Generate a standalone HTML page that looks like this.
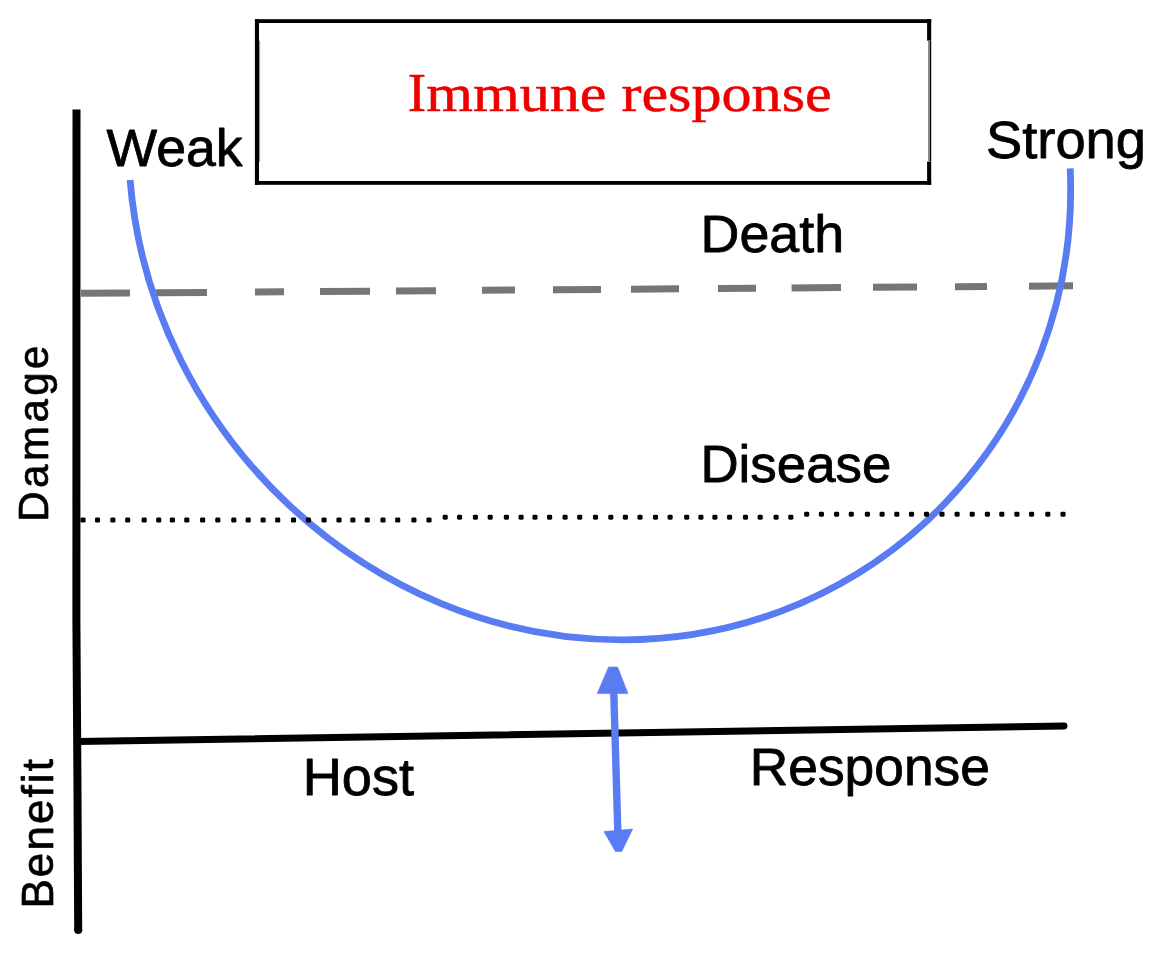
<!DOCTYPE html>
<html><head><meta charset="utf-8"><title>Immune response</title>
<style>
html,body{margin:0;padding:0;background:#fff;width:1164px;height:955px;overflow:hidden;}
svg{display:block;will-change:transform;}
</style></head>
<body>
<svg width="1164" height="955" viewBox="0 0 1164 955">
<rect x="255" y="19.2" width="676.2" height="3.8" fill="#000"/>
<rect x="255" y="181" width="676.2" height="3.8" fill="#000"/>
<rect x="254.9" y="19.2" width="4.1" height="165.6" fill="#000"/>
<rect x="259" y="40.7" width="1.1" height="121" fill="#999"/>
<rect x="927.1" y="19.2" width="4.1" height="21.5" fill="#000"/>
<rect x="927.1" y="161.5" width="4.1" height="23.3" fill="#000"/>
<rect x="928" y="40.7" width="2" height="120.8" fill="#8a8a8a"/>
<rect x="930" y="40.7" width="1.2" height="120.8" fill="#000"/>
<text transform="translate(409.55,111.35) scale(0.9953,1)" x="-1.94" y="0" font-size="55.5" fill="#ee0000" stroke="#ee0000" stroke-width="0.5" stroke-linejoin="round" style="font-family:&quot;Liberation Serif&quot;, serif">I</text>
<text transform="translate(427.35,111.35) scale(1.1559,1)" x="-1.04" y="0" font-size="52" fill="#ee0000" stroke="#ee0000" stroke-width="0.5" stroke-linejoin="round" style="font-family:&quot;Liberation Serif&quot;, serif">mmune response</text>
<polyline points="76.5,109.5 76.4,620 77.4,775 78.2,931" fill="none" stroke="#000" stroke-width="8" stroke-linejoin="round"/><circle cx="78.2" cy="930" r="4" fill="#000"/>
<line x1="78" y1="741.45" x2="1064" y2="726.0" stroke="#000" stroke-width="7" stroke-linecap="round"/>
<line x1="81" y1="293.34" x2="130" y2="292.97" stroke="#767676" stroke-width="7"/>
<line x1="155.5" y1="292.78" x2="207" y2="292.39" stroke="#767676" stroke-width="7"/>
<line x1="255" y1="292.03" x2="284" y2="291.81" stroke="#767676" stroke-width="7"/>
<line x1="320" y1="291.53" x2="370" y2="291.15" stroke="#767676" stroke-width="7"/>
<line x1="396" y1="290.96" x2="436" y2="290.65" stroke="#767676" stroke-width="7"/>
<line x1="482" y1="290.30" x2="515" y2="290.05" stroke="#767676" stroke-width="7"/>
<line x1="553" y1="289.77" x2="601" y2="289.40" stroke="#767676" stroke-width="7"/>
<line x1="631" y1="289.18" x2="679" y2="288.81" stroke="#767676" stroke-width="7"/>
<line x1="718" y1="288.52" x2="756" y2="288.23" stroke="#767676" stroke-width="7"/>
<line x1="791.6" y1="287.96" x2="841" y2="287.58" stroke="#767676" stroke-width="7"/>
<line x1="873" y1="287.34" x2="917" y2="287.01" stroke="#767676" stroke-width="7"/>
<line x1="955" y1="286.72" x2="987" y2="286.48" stroke="#767676" stroke-width="7"/>
<line x1="1029" y1="286.16" x2="1073" y2="285.83" stroke="#767676" stroke-width="7"/>
<path d="M130.1,180 C150.82,434.80 370.21,639.83 622.25,639.83 C876.12,639.83 1081.83,430.43 1070.2,168.4" fill="none" stroke="#5a7cf2" stroke-width="6.8"/>
<rect x="80.45" y="517.45" width="5.1" height="5.1" rx="1.4" fill="#000"/>
<rect x="94.95" y="517.45" width="5.1" height="5.1" rx="1.4" fill="#000"/>
<rect x="110.35" y="517.45" width="5.1" height="5.1" rx="1.4" fill="#000"/>
<rect x="125.15" y="517.45" width="5.1" height="5.1" rx="1.4" fill="#000"/>
<rect x="141.65" y="517.45" width="5.1" height="5.1" rx="1.4" fill="#000"/>
<rect x="156.15" y="517.45" width="5.1" height="5.1" rx="1.4" fill="#000"/>
<rect x="169.85" y="517.45" width="5.1" height="5.1" rx="1.4" fill="#000"/>
<rect x="184.25" y="517.45" width="5.1" height="5.1" rx="1.4" fill="#000"/>
<rect x="200.05" y="517.45" width="5.1" height="5.1" rx="1.4" fill="#000"/>
<rect x="215.25" y="517.45" width="5.1" height="5.1" rx="1.4" fill="#000"/>
<rect x="231.25" y="517.45" width="5.1" height="5.1" rx="1.4" fill="#000"/>
<rect x="245.65" y="517.45" width="5.1" height="5.1" rx="1.4" fill="#000"/>
<rect x="260.55" y="517.45" width="5.1" height="5.1" rx="1.4" fill="#000"/>
<rect x="275.15" y="517.45" width="5.1" height="5.1" rx="1.4" fill="#000"/>
<rect x="290.95" y="517.45" width="5.1" height="5.1" rx="1.4" fill="#000"/>
<rect x="305.85" y="517.45" width="5.1" height="5.1" rx="1.4" fill="#000"/>
<rect x="321.55" y="517.45" width="5.1" height="5.1" rx="1.4" fill="#000"/>
<rect x="336.45" y="517.45" width="5.1" height="5.1" rx="1.4" fill="#000"/>
<rect x="350.35" y="517.45" width="5.1" height="5.1" rx="1.4" fill="#000"/>
<rect x="364.75" y="517.45" width="5.1" height="5.1" rx="1.4" fill="#000"/>
<rect x="380.45" y="517.45" width="5.1" height="5.1" rx="1.4" fill="#000"/>
<rect x="395.15" y="517.45" width="5.1" height="5.1" rx="1.4" fill="#000"/>
<rect x="411.35" y="517.45" width="5.1" height="5.1" rx="1.4" fill="#000"/>
<rect x="426.45" y="517.45" width="5.1" height="5.1" rx="1.4" fill="#000"/>
<rect x="442.65" y="514.65" width="5.1" height="5.1" rx="1.4" fill="#000"/>
<rect x="457.05" y="514.65" width="5.1" height="5.1" rx="1.4" fill="#000"/>
<rect x="472.85" y="514.65" width="5.1" height="5.1" rx="1.4" fill="#000"/>
<rect x="487.65" y="514.65" width="5.1" height="5.1" rx="1.4" fill="#000"/>
<rect x="503.85" y="514.65" width="5.1" height="5.1" rx="1.4" fill="#000"/>
<rect x="518.55" y="514.65" width="5.1" height="5.1" rx="1.4" fill="#000"/>
<rect x="532.45" y="514.65" width="5.1" height="5.1" rx="1.4" fill="#000"/>
<rect x="547.05" y="514.65" width="5.1" height="5.1" rx="1.4" fill="#000"/>
<rect x="562.55" y="514.65" width="5.1" height="5.1" rx="1.4" fill="#000"/>
<rect x="577.15" y="514.65" width="5.1" height="5.1" rx="1.4" fill="#000"/>
<rect x="592.95" y="514.65" width="5.1" height="5.1" rx="1.4" fill="#000"/>
<rect x="608.25" y="514.65" width="5.1" height="5.1" rx="1.4" fill="#000"/>
<rect x="622.85" y="514.65" width="5.1" height="5.1" rx="1.4" fill="#000"/>
<rect x="637.45" y="514.65" width="5.1" height="5.1" rx="1.4" fill="#000"/>
<rect x="652.95" y="514.65" width="5.1" height="5.1" rx="1.4" fill="#000"/>
<rect x="667.55" y="514.65" width="5.1" height="5.1" rx="1.4" fill="#000"/>
<rect x="684.15" y="514.65" width="5.1" height="5.1" rx="1.4" fill="#000"/>
<rect x="698.35" y="514.65" width="5.1" height="5.1" rx="1.4" fill="#000"/>
<rect x="712.35" y="514.65" width="5.1" height="5.1" rx="1.4" fill="#000"/>
<rect x="727.05" y="514.65" width="5.1" height="5.1" rx="1.4" fill="#000"/>
<rect x="742.95" y="514.65" width="5.1" height="5.1" rx="1.4" fill="#000"/>
<rect x="757.65" y="514.65" width="5.1" height="5.1" rx="1.4" fill="#000"/>
<rect x="773.55" y="514.65" width="5.1" height="5.1" rx="1.4" fill="#000"/>
<rect x="788.25" y="514.65" width="5.1" height="5.1" rx="1.4" fill="#000"/>
<rect x="804.15" y="511.65" width="5.1" height="5.1" rx="1.4" fill="#000"/>
<rect x="818.85" y="511.65" width="5.1" height="5.1" rx="1.4" fill="#000"/>
<rect x="834.05" y="511.65" width="5.1" height="5.1" rx="1.4" fill="#000"/>
<rect x="848.75" y="511.65" width="5.1" height="5.1" rx="1.4" fill="#000"/>
<rect x="864.85" y="511.65" width="5.1" height="5.1" rx="1.4" fill="#000"/>
<rect x="879.55" y="511.65" width="5.1" height="5.1" rx="1.4" fill="#000"/>
<rect x="894.25" y="511.65" width="5.1" height="5.1" rx="1.4" fill="#000"/>
<rect x="908.95" y="511.65" width="5.1" height="5.1" rx="1.4" fill="#000"/>
<rect x="923.95" y="511.65" width="5.1" height="5.1" rx="1.4" fill="#000"/>
<rect x="939.45" y="511.65" width="5.1" height="5.1" rx="1.4" fill="#000"/>
<rect x="954.55" y="511.65" width="5.1" height="5.1" rx="1.4" fill="#000"/>
<rect x="969.65" y="511.65" width="5.1" height="5.1" rx="1.4" fill="#000"/>
<rect x="984.85" y="511.65" width="5.1" height="5.1" rx="1.4" fill="#000"/>
<rect x="999.25" y="511.65" width="5.1" height="5.1" rx="1.4" fill="#000"/>
<rect x="1014.35" y="511.65" width="5.1" height="5.1" rx="1.4" fill="#000"/>
<rect x="1029.05" y="511.65" width="5.1" height="5.1" rx="1.4" fill="#000"/>
<rect x="1045.25" y="511.65" width="5.1" height="5.1" rx="1.4" fill="#000"/>
<rect x="1060.45" y="511.65" width="5.1" height="5.1" rx="1.4" fill="#000"/>
<line x1="613.7" y1="690" x2="617.9" y2="834" stroke="#5a7cf2" stroke-width="7.4"/>
<polygon points="608.6,667 617.6,667 628,693.6 597.2,693.6" fill="#5a7cf2" stroke="#5a7cf2" stroke-width="0.6" stroke-linejoin="round"/>
<polygon points="603.9,831.5 632.7,829 621.7,851.5 615.4,851.5" fill="#5a7cf2" stroke="#5a7cf2" stroke-width="0.6" stroke-linejoin="round"/>
<text transform="translate(106.80,165.60) scale(1.0253,1)" x="-0.26" y="0" font-size="52.3" fill="#000" stroke="#000" stroke-width="0.8" stroke-linejoin="round" style="font-family:&quot;Liberation Sans&quot;, sans-serif">Weak</text>
<text transform="translate(988.40,157.60) scale(1.0391,1)" x="-2.35" y="0" font-size="52.3" fill="#000" stroke="#000" stroke-width="0.8" stroke-linejoin="round" style="font-family:&quot;Liberation Sans&quot;, sans-serif">Strong</text>
<text transform="translate(705.00,252.40) scale(1.0289,1)" x="-4.31" y="0" font-size="52.3" fill="#000" stroke="#000" stroke-width="0.8" stroke-linejoin="round" style="font-family:&quot;Liberation Sans&quot;, sans-serif">Death</text>
<text transform="translate(704.80,482.40) scale(1.0104,1)" x="-4.31" y="0" font-size="52.3" fill="#000" stroke="#000" stroke-width="0.8" stroke-linejoin="round" style="font-family:&quot;Liberation Sans&quot;, sans-serif">Disease</text>
<text transform="translate(307.20,794.60) scale(1.0353,1)" x="-4.31" y="0" font-size="52.3" fill="#000" stroke="#000" stroke-width="0.8" stroke-linejoin="round" style="font-family:&quot;Liberation Sans&quot;, sans-serif">Host</text>
<text transform="translate(754.20,784.90) scale(1.0195,1)" x="-4.31" y="0" font-size="52.3" fill="#000" stroke="#000" stroke-width="0.8" stroke-linejoin="round" style="font-family:&quot;Liberation Sans&quot;, sans-serif">Response</text>
<text transform="translate(48.45,518.25) rotate(-90)" x="-3.47" y="0" font-size="42" fill="#000" stroke="#000" stroke-width="0.7" stroke-linejoin="round" style="font-family:&quot;Liberation Sans&quot;, sans-serif;letter-spacing:3.479px">Damage</text>
<text transform="translate(53.15,904.95) rotate(-90)" x="-3.63" y="0" font-size="44" fill="#000" stroke="#000" stroke-width="0.7" stroke-linejoin="round" style="font-family:&quot;Liberation Sans&quot;, sans-serif;letter-spacing:2.085px">Benefit</text>
</svg>
</body></html>
